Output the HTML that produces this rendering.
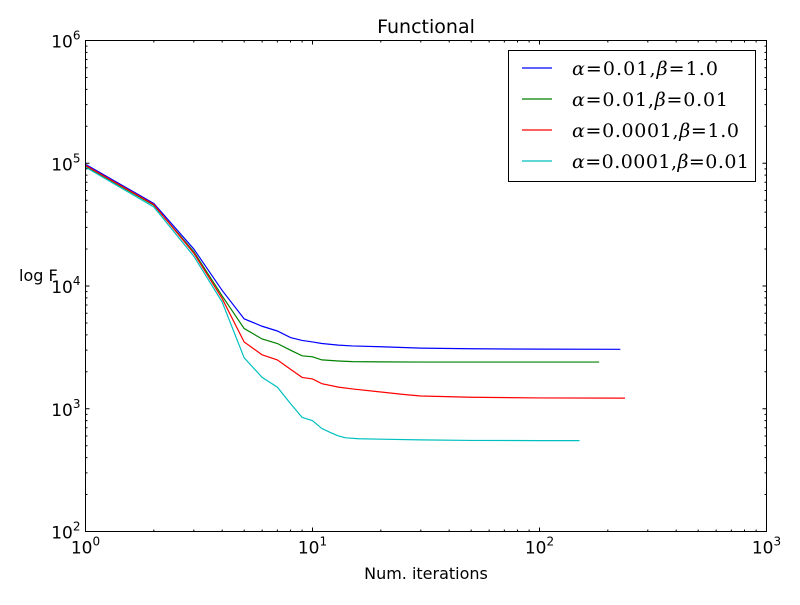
<!DOCTYPE html>
<html><head><meta charset="utf-8"><style>
body{margin:0;background:#fff;}
svg text{font-family:"DejaVu Sans","Liberation Sans",sans-serif;}
.m{font-family:"DejaVu Serif","Liberation Serif",serif;}
</style></head><body>
<svg id="c" width="800" height="600" xmlns="http://www.w3.org/2000/svg">
<rect width="800" height="600" fill="#fff"/>
<text x="426" y="33" font-size="19" text-anchor="middle">Functional</text>
<text x="426" y="579" font-size="16" text-anchor="middle">Num. iterations</text>
<text x="19" y="281" font-size="16">log F</text>
<g id="g"></g>
</svg>
<script>
const xs1=[1,2,3,4,5,6,7,8,9,10,11,13,15,20,30,50,100,227];
const blue=[98000,47000,20000,9200,5400,4700,4300,3800,3600,3500,3400,3300,3250,3200,3120,3080,3060,3050];
const xs2=[1,2,3,4,5,6,7,8,9,10,11,13,15,20,30,50,100,183];
const green=[95000,45500,19000,8300,4500,3700,3400,3000,2700,2650,2500,2450,2420,2410,2400,2400,2400,2400];
const xs3=[1,2,3,4,5,6,7,8,9,10,11,13,15,20,25,30,50,100,238];
const red=[96000,46000,18500,7900,3500,2750,2500,2100,1800,1750,1600,1500,1450,1370,1310,1270,1240,1225,1220];
const xs4=[1,2,3,4,5,6,7,8,9,10,11,12,13,14,16,20,30,50,100,150];
const cyan=[93000,44000,17500,7400,2600,1800,1500,1100,850,800,690,640,600,580,570,565,558,552,550,550];
const xTicks=[1,10,100,1000];
const yTicks=[100,1000,10000,100000,1000000];
const L=85.5,R=766.5,T=40.5,B=531.5;
const X=v=>L+(Math.log10(v)-0)/3*(R-L);
const Y=v=>B-(Math.log10(v)-2)/4*(B-T);
const NS="http://www.w3.org/2000/svg";
const g=document.getElementById('g');
function el(t,a,p){const e=document.createElementNS(NS,t);for(const k in a)e.setAttribute(k,a[k]);(p||g).appendChild(e);return e;}
const series=[[xs1,blue,'#0000ff','series-blue'],[xs2,green,'#008000','series-green'],[xs3,red,'#ff0000','series-red'],[xs4,cyan,'#00bfbf','series-cyan']];
series.forEach(s=>{
 const p=el('polyline',{points:s[0].map((x,i)=>X(x)+','+Y(s[1][i])).join(' '),fill:'none',stroke:s[2],'stroke-width':1.2});
 
 
});
const fr=el('rect',{x:L,y:T,width:R-L,height:B-T,fill:'none',stroke:'#000','stroke-width':1});


let tk='';
xTicks.forEach((t,i)=>{
 const x=X(t);
 tk+=`M${x},${B}v-4M${x},${T}v4`;
 if(i<xTicks.length-1)for(let k=2;k<10;k++){const xm=X(t*k);tk+=`M${xm},${B}v-2M${xm},${T}v2`;}
 const tx=el('text',{x:x,y:B+22,'font-size':17,'text-anchor':'middle'});
 
 
 tx.innerHTML='10<tspan dy="-8" font-size="12">'+Math.round(Math.log10(t))+'</tspan>';
});
yTicks.forEach((t,i)=>{
 const y=Y(t);
 tk+=`M${L},${y}h4M${R},${y}h-4`;
 if(i<yTicks.length-1)for(let k=2;k<10;k++){const ym=Y(t*k);tk+=`M${L},${ym}h2M${R},${ym}h-2`;}
 const ty=el('text',{x:L-5,y:y+7,'font-size':17,'text-anchor':'end'});
 
 
 ty.innerHTML='10<tspan dy="-8" font-size="12">'+Math.round(Math.log10(t))+'</tspan>';
});
const tp=el('path',{d:tk,stroke:'#000','stroke-width':1,fill:'none'});


const lg=el('g',{});


el('rect',{x:508.5,y:50.5,width:247,height:131,fill:'#fff',stroke:'#000','stroke-width':1},lg);
const alphas=['0.01','0.01','0.0001','0.0001'];
const betas=['1.0','0.01','1.0','0.01'];
const lens=[146,156,167,177];
series.forEach((s,i)=>{
 const y=68+i*31;
 const e=el('g',{},lg);
 
 
 el('line',{x1:522,x2:552,y1:y,y2:y,stroke:s[2],'stroke-width':1.2},e);
 const t=el('text',{x:572,y:y+7,'font-size':19,class:'m',textLength:lens[i],lengthAdjust:'spacing'},e);
 t.innerHTML='<tspan font-style="italic">α</tspan>=0.'+alphas[i].slice(2)+',<tspan font-style="italic">β</tspan>='+betas[i];
});
</script>
</body></html>
